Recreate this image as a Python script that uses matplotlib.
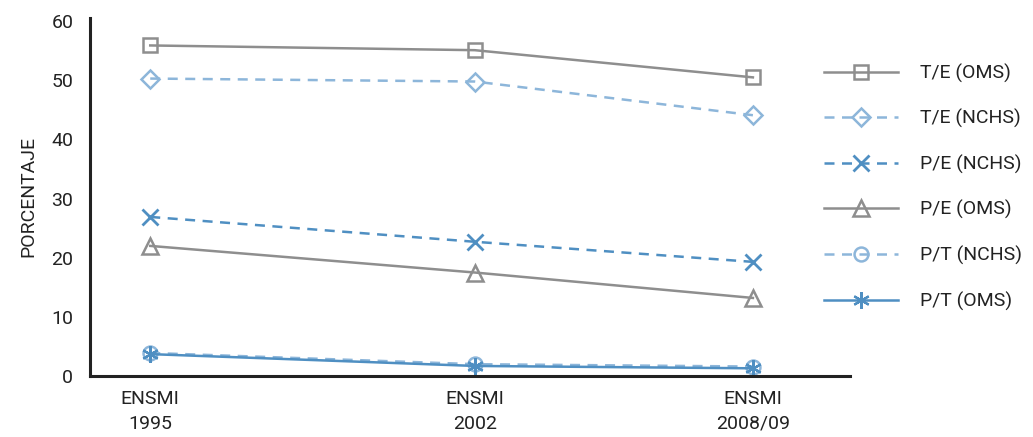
import matplotlib
matplotlib.use("Agg")
import matplotlib.pyplot as plt
from matplotlib import font_manager

names = {f.name for f in font_manager.fontManager.ttflist}
fam = 'Liberation Sans Narrow' if 'Liberation Sans Narrow' in names else 'Roboto'
plt.rcParams['font.family'] = [fam, 'DejaVu Sans']

years = [1995, 2002, 2008]
xlabels = ["ENSMI\n1995", "ENSMI\n2002", "ENSMI\n2008/09"]
te_oms = [55.9, 55.1, 50.5]
te_nchs = [50.3, 49.8, 44.1]
pe_nchs = [26.9, 22.7, 19.3]
pe_oms = [22.0, 17.5, 13.2]
pt_nchs = [3.9, 2.0, 1.6]
pt_oms = [3.7, 1.7, 1.3]

gray = '#8e8e8e'
lblue = '#8db6da'
mblue = '#4f8fc2'

fig = plt.figure(figsize=(10.33, 4.37), dpi=100)
ax = fig.add_axes([0.0871, 0.1396, 0.736, 0.82])

ms = 10
ax.plot(years, te_oms, color=gray, lw=1.8, marker='s', ms=ms, mfc='none', mew=1.8, label='T/E (OMS)')
ax.plot(years, te_nchs, color=lblue, lw=1.8, ls=(0, (4, 3)), marker='D', ms=ms*0.9, mfc='none', mew=1.8, label='T/E (NCHS)')
ax.plot(years, pe_nchs, color=mblue, lw=1.8, ls=(0, (4, 3)), marker='x', ms=ms*1.1, mew=2, label='P/E (NCHS)')
ax.plot(years, pe_oms, color=gray, lw=1.8, marker='^', ms=ms*1.1, mfc='none', mew=1.8, label='P/E (OMS)')
ax.plot(years, pt_nchs, color=lblue, lw=1.8, ls=(0, (4, 3)), marker='o', ms=ms, mfc='none', mew=1.8, label='P/T (NCHS)')
ax.plot(years, pt_oms, color=mblue, lw=1.8, marker=(6, 2, 0), ms=ms*1.2, mew=1.6, label='P/T (OMS)')

ax.set_xlim(1993.7, 2010.1)
ax.set_ylim(0, 60.6)
ax.set_yticks([0, 10, 20, 30, 40, 50, 60])
ax.set_xticks(years)
ax.set_xticklabels(xlabels)
ax.tick_params(axis='both', length=0, labelsize=14, colors='#222222')
ax.tick_params(axis='y', pad=12)
ax.tick_params(axis='x', pad=10)
for lab in ax.get_xticklabels():
    lab.set_linespacing(1.5)
ax.spines['top'].set_visible(False)
ax.spines['right'].set_visible(False)
for s in ['left', 'bottom']:
    ax.spines[s].set_linewidth(2.2)
    ax.spines[s].set_color('#222222')
ax.set_ylabel('PORCENTAJE', fontsize=14, color='#222222', labelpad=10)

fig.legend(loc='upper left', bbox_to_anchor=(0.781, 0.895), frameon=False, fontsize=14,
           handlelength=3.8, labelspacing=1.36, handletextpad=1.1, labelcolor='#222222')

fig.savefig('out.png', dpi=100)
